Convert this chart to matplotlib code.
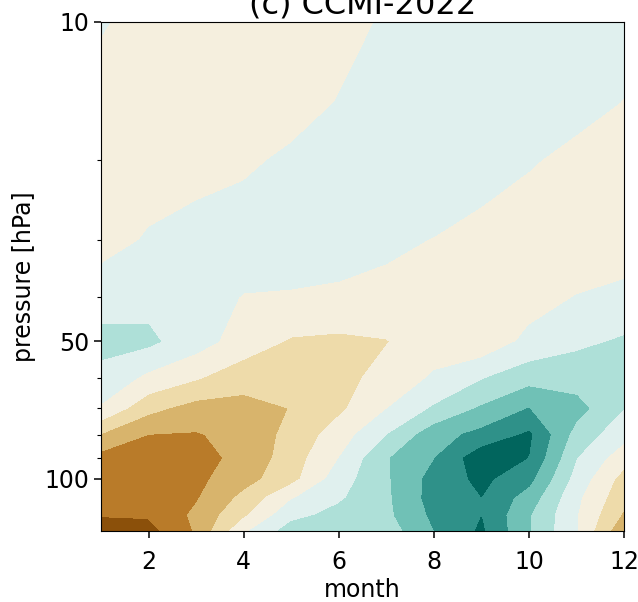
import matplotlib
matplotlib.use("Agg")
import matplotlib.pyplot as plt
import matplotlib.ticker as mticker
import numpy as np

# monthly mean anomaly field, one row per pressure level
months = np.arange(1, 13)
plev = [10, 15, 20, 30, 40, 50, 60, 70, 80, 90, 100, 110, 120, 130]

p010 = [0.15, -0.65, -0.7, -0.7, -0.6, -0.3, 0.1, 0.3, 0.4, 0.4, 0.4, 0.35]
p015 = [-0.84, -0.8, -0.7, -0.6, -0.4, 0.04, 0.3, 0.45, 0.5, 0.45, 0.3, -0.03]
p020 = [-0.75, -0.5, -0.35, -0.2, 0.185, 0.4, 0.55, 0.55, 0.4, 0.1, -0.27, -0.4]
p030 = [-0.47, 0.11, 0.4, 0.67, 0.6, 0.45, 0.17, -0.03, -0.35, -0.73, -0.7, -0.7]
p040 = [0.735, 0.7, 0.54, -0.06, -0.114, -0.2, -0.28, -0.5, -0.5, -0.4, 0.03, 0.36]
p050 = [1.18, 1.2, 0.4, -0.45, -1.11, -1.21, -1.05, -0.4, -0.7, 0.25, 0.8, 1.10]
p060 = [0.81, -0.26, -0.9, -1.62, -1.5, -1.4, -0.6, 0.1, 0.9, 1.6, 1.55, 1.4]
p070 = [-0.15, -1.71, -2.41, -2.34, -1.98, -1.2, -0.05, 1.1, 2.1, 3.0, 2.35, 1.02]
p080 = [-2.08, -3.02, -3.08, -2.66, -1.72, -0.52, 0.95, 2.57, 3.3, 4.15, 1.6, 0.3]
p090 = [-3.4, -3.4, -3.3, -2.77, -1.5, -0.02, 1.9, 2.95, 4.64, 3.97, 1.0, -0.6]
p100 = [-3.6, -3.6, -3.25, -2.4, -1.35, 0.5, 1.85, 3.35, 4.24, 3.28, 0.6, -1.4]
p110 = [-3.8, -3.75, -3.1, -1.75, -0.1, 0.85, 1.8, 3.4, 3.98, 2.53, 0.2, -1.7]
p120 = [-3.97, -3.9, -2.8, -1.2, 0.7, 1.3, 1.75, 3.2, 3.98, 2.08, 0.05, -2.15]
p130 = [-4.3, -4.37, -2.9, -0.2, 1.45, 1.5, 1.46, 2.97, 4.15, 2.05, 0.05, -2.85]

field = np.array([p010, p015, p020, p030, p040, p050, p060,
                  p070, p080, p090, p100, p110, p120, p130])

levels = np.arange(-5, 6, 1)
cols = plt.cm.BrBG(np.linspace(0.1, 0.9, len(levels) - 1))

plt.rcParams['font.family'] = 'DejaVu Sans'
plt.rcParams['font.size'] = 17

fig = plt.figure(figsize=(6.38, 6.02), dpi=100)
ax = fig.add_axes([0.1583, 0.1179, 0.8197, 0.8456])

ax.contourf(months, plev, field, levels=levels, colors=cols)

ax.set_yscale('log')
ax.set_ylim(130, 10)
ax.set_xlim(1, 12)
ax.set_yticks([10, 50, 100])
ax.set_yticklabels(['10', '50', '100'])
ax.yaxis.set_minor_formatter(mticker.NullFormatter())
ax.set_xticks([2, 4, 6, 8, 10, 12])
ax.tick_params(which='major', length=5, width=1.1)
ax.tick_params(which='minor', length=3, width=0.8)
ax.tick_params(axis='x', which='major', pad=8.5)

ax.set_xlabel('month', labelpad=3)
ax.set_ylabel('pressure [hPa]', labelpad=6)
ax.set_title('(c) CCMI-2022', fontsize=23)

fig.savefig('out.png', dpi=100)
